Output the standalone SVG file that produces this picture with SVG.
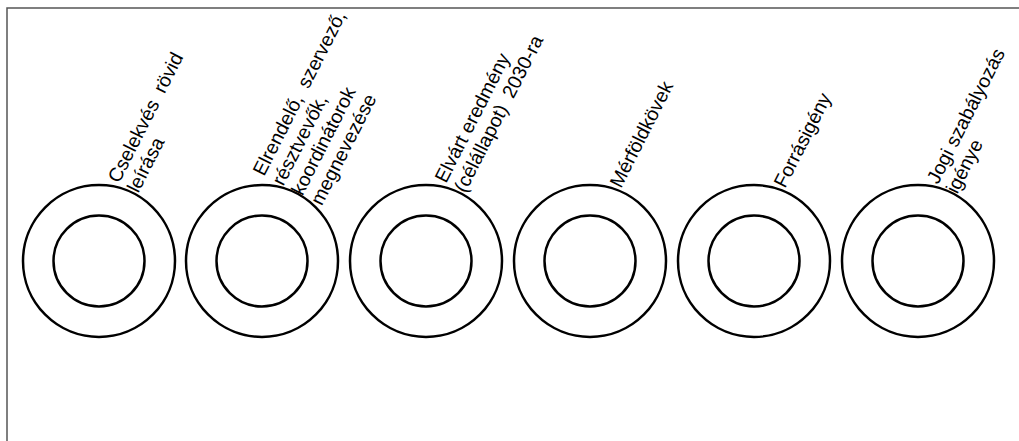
<svg xmlns="http://www.w3.org/2000/svg" width="1019" height="441" viewBox="0 0 1019 441">
<style>
.o{fill:none;stroke:#000;stroke-width:2.5}
.i{fill:none;stroke:#000;stroke-width:2.5}
.t{font-family:"Liberation Sans",Arial,sans-serif;font-size:19.5px;fill:#000}
.w{word-spacing:5px}
.frame{fill:none;stroke:#555;stroke-width:1.5}
</style>
<rect class="frame" x="7" y="8" width="1030" height="450"/>
<g id="connectors"></g>
<g id="n1">
<circle class="o" cx="99" cy="261" r="76"/><circle class="i" cx="99" cy="261" r="45.5"/>
<text class="t" transform="translate(119,184) rotate(-63)"><tspan class="w" x="0" y="0">Cselekvés rövid</tspan><tspan x="0" dy="21.6">leírása</tspan></text>
</g>
<g id="n2">
<circle class="o" cx="262" cy="261" r="76"/><circle class="i" cx="262" cy="261" r="45.5"/>
<text class="t" transform="translate(264,177) rotate(-63)"><tspan class="w" x="0" y="0">Elrendelő, szervező,</tspan><tspan x="0" dy="21.6">résztvevők,</tspan><tspan x="0" dy="21.6">koordinátorok</tspan><tspan x="0" dy="21.6">megnevezése</tspan></text>
</g>
<g id="n3">
<circle class="o" cx="426" cy="261" r="76"/><circle class="i" cx="426" cy="261" r="45.5"/>
<text class="t" transform="translate(446,184) rotate(-63)"><tspan x="0" y="0">Elvárt eredmény</tspan><tspan class="w" x="0" dy="21.6">(célállapot) 2030-ra</tspan></text>
</g>
<g id="n4">
<circle class="o" cx="590" cy="261" r="76"/><circle class="i" cx="590" cy="261" r="45.5"/>
<text class="t" transform="translate(621,189) rotate(-63)">Mérföldkövek</text>
</g>
<g id="n5">
<circle class="o" cx="754" cy="261" r="76"/><circle class="i" cx="754" cy="261" r="45.5"/>
<text class="t" transform="translate(785,189) rotate(-63)">Forrásigény</text>
</g>
<g id="n6">
<circle class="o" cx="918" cy="261" r="76"/><circle class="i" cx="918" cy="261" r="45.5"/>
<text class="t" transform="translate(938,185) rotate(-63)"><tspan x="0" y="0">Jogi szabályozás</tspan><tspan x="0" dy="21.6">igénye</tspan></text>
</g>
</svg>
